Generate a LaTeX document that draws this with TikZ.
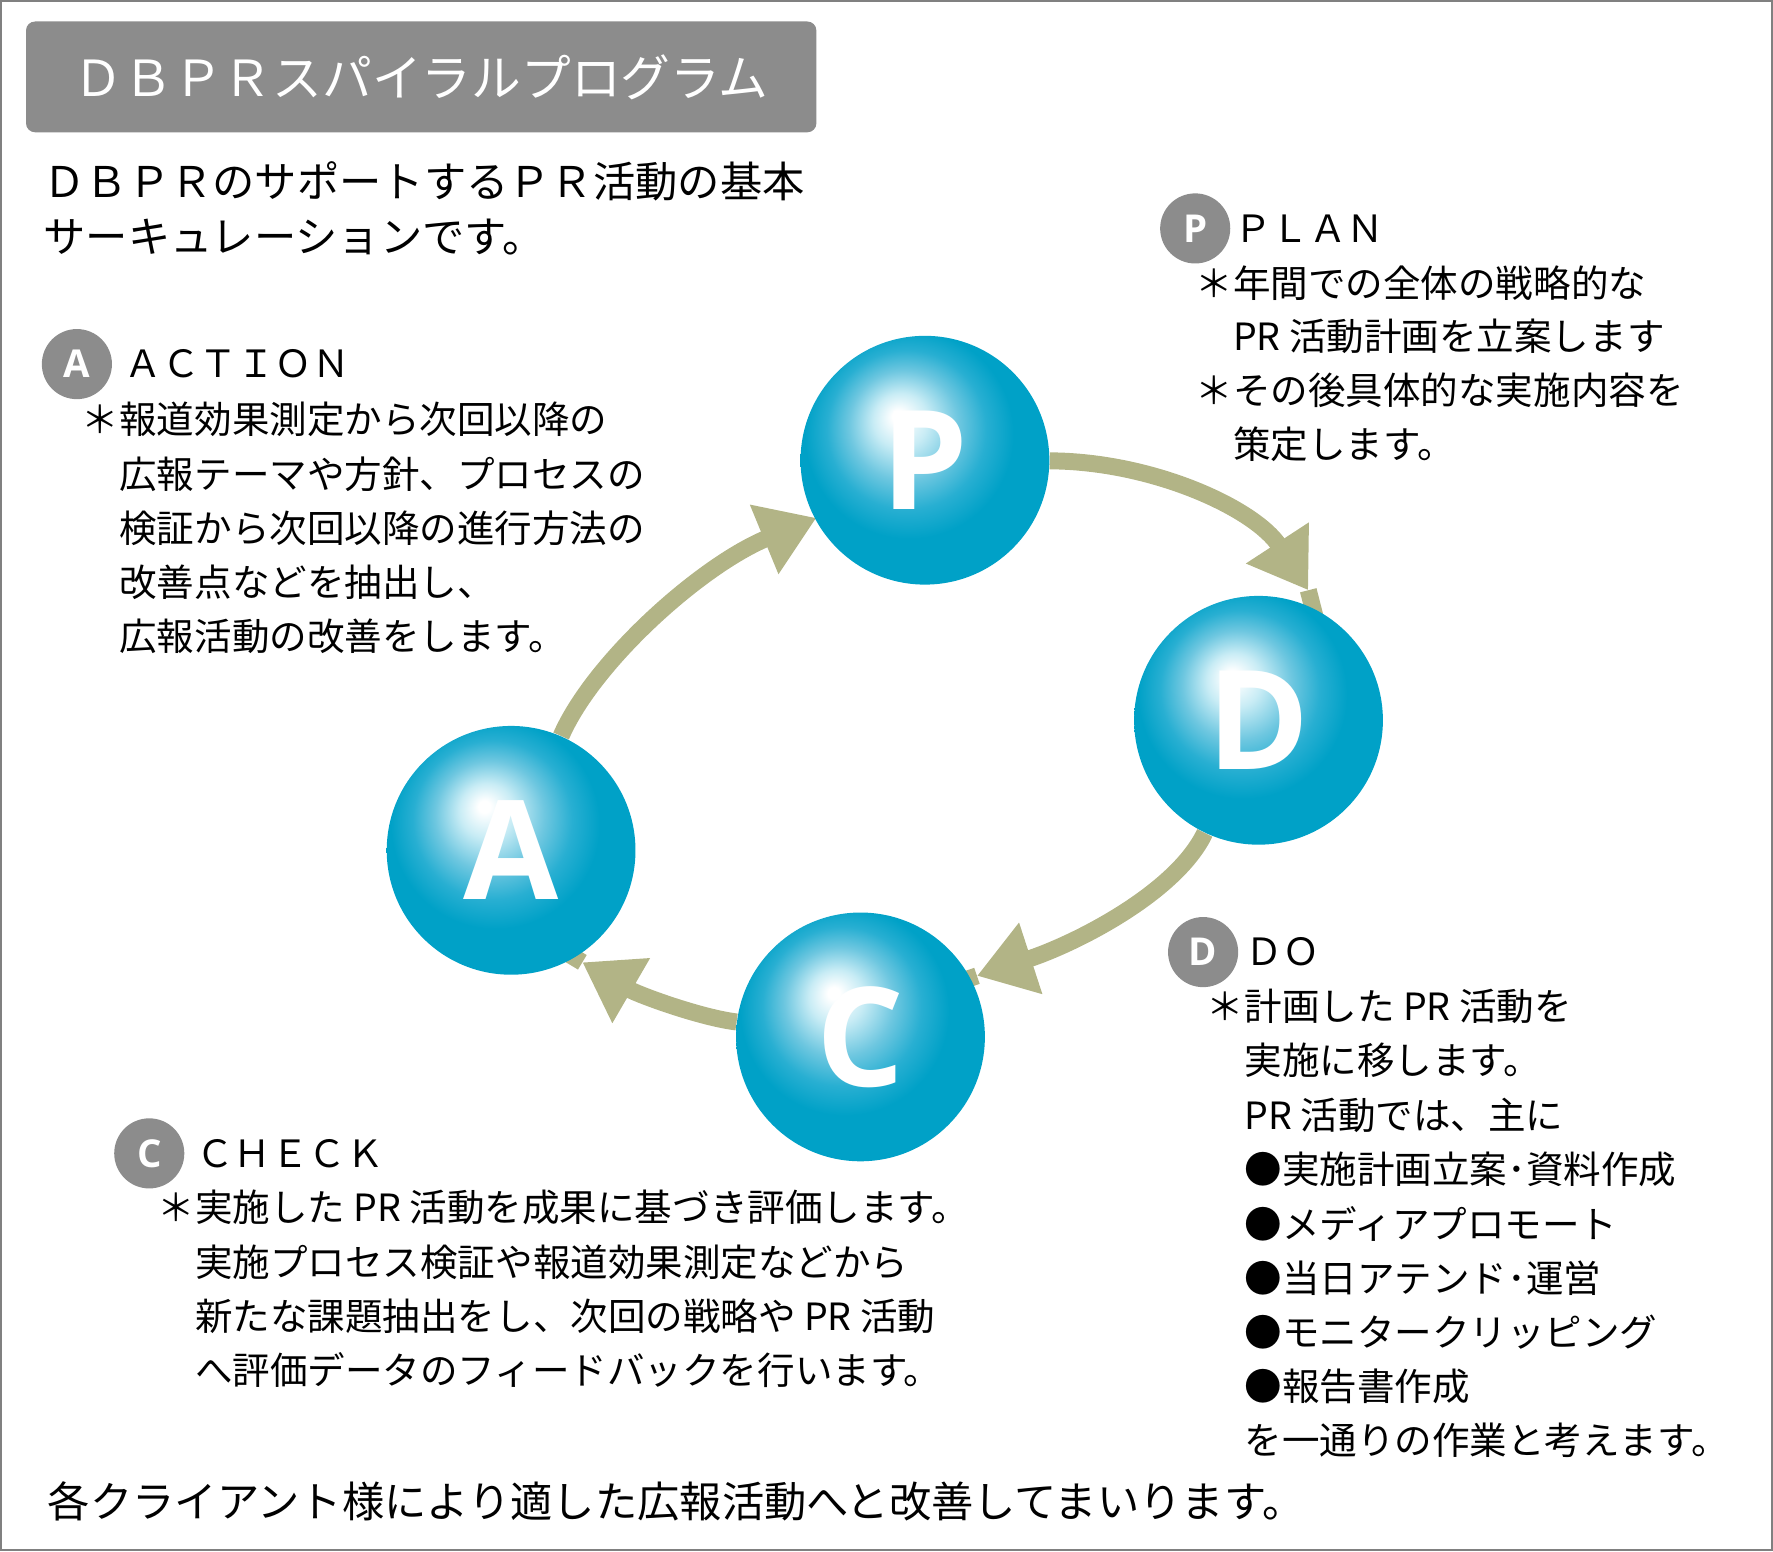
\documentclass[tikz,border=0pt]{standalone}
\usepackage{fontspec}
\setmainfont{Noto Sans CJK JP}
\newfontfamily\latf{Open Sans}
\usetikzlibrary{arrows.meta}
\pgfdeclarelayer{background}
\pgfsetlayers{background,main}
\definecolor{sphC}{RGB}{0,161,199}
\definecolor{sph1}{RGB}{200,236,245}
\definecolor{sph2}{RGB}{110,199,224}
\definecolor{sph3}{RGB}{40,175,210}
\definecolor{olive}{RGB}{178,180,134}
\definecolor{lblgray}{RGB}{140,140,140}
\definecolor{bordergray}{RGB}{128,128,128}
\pgfdeclareradialshading{sph}{\pgfpoint{-5.5bp}{9bp}}{color(0bp)=(white); color(1.2bp)=(white); color(5.5bp)=(sph1); color(11bp)=(sph2); color(16bp)=(sph3); color(21bp)=(sphC); color(50bp)=(sphC)}
\tikzset{
  sphere/.style={circle, minimum size=110pt, inner sep=0pt, shade, shading=sph, text=white,
    font=\latf\bfseries\fontsize{61}{61}\selectfont},
  lbl/.style={circle, fill=lblgray, minimum size=31pt, inner sep=0pt, text=white, font=\latf\bfseries\fontsize{17}{17}\selectfont},
  head/.style={anchor=west, inner sep=0pt, font=\fontsize{16.6}{20}\selectfont},
  body/.style={anchor=west, inner sep=0pt, font=\fontsize{16.6}{20}\selectfont},
  sub/.style={anchor=west, inner sep=0pt, font=\fontsize{18.7}{22}\selectfont},
  titlebox/.style={rounded corners=4pt, fill=lblgray, minimum width=349.5pt, minimum height=49pt, inner sep=0pt, text=white, font=\fontsize{22}{22}\selectfont},
  flow/.style={draw=olive, line width=7.5pt},
  flowtip/.style={-{Triangle[length=25pt,width=31.5pt]}}
}
\begin{document}
\begin{tikzpicture}[x=0.5pt,y=-0.5pt]
\useasboundingbox (0,0) rectangle (1568,1372);
\draw[bordergray, line width=1pt] (1,1) rectangle (1567,1371);

% title
\node[titlebox] (title) at (372.5,68) {ＤＢＰＲスパイラルプログラム};
\node[sub] (s1) at (38,160) {ＤＢＰＲのサポートするＰＲ活動の基本};
\node[sub] (s2) at (38,210) {サーキュレーションです。};
\node[sub] (b1) at (42,1328) {各クライアント様により適した広報活動へと改善してまいります。};

% spheres
\node[sphere] (P) at (818,407) {\raisebox{-3pt}{P}};
\node[sphere] (D) at (1113,637) {\raisebox{-3pt}{D}};
\node[sphere] (C) at (761,917) {\raisebox{-2pt}{C}};
\node[sphere] (A) at (452,752) {\raisebox{-4pt}{A}};

% arrows
\begin{pgfonlayer}{background}
\coordinate (tAP) at (722,458);
\coordinate (eP) at (745,447);
\coordinate (tPD) at (1157,522);
\coordinate (eD) at (1168,565);
\coordinate (tDC) at (864,863);
\coordinate (eC) at (835,873);
\coordinate (tCA) at (515,851);
\coordinate (eA) at (490,836);
\draw[flow, flowtip] (A) .. controls (525,585) and (620,500) .. (tAP);
\draw[flow] (tAP) -- (eP);
\draw[flow, flowtip] (P) .. controls (1020,408) and (1110,450) .. (tPD);
\draw[flow] (tPD) -- (eD);
\draw[flow, flowtip] (D) .. controls (1040,790) and (950,835) .. (tDC);
\draw[flow] (tDC) -- (eC);
\draw[flow, flowtip] (C) .. controls (620,900) and (565,880) .. (tCA);
\draw[flow] (tCA) -- (eA);
\end{pgfonlayer}

% PLAN
\node[lbl] (cP) at (1057,202) {P};
\node[head] (hP) at (1091,202) {ＰＬＡＮ};
\foreach \t [count=\i] in {＊年間での全体の戦略的な, 　PR 活動計画を立案します, ＊その後具体的な実施内容を, 　策定します。}
  \node[body] (plan\i) at (1057,{250+47.7*(\i-1)}) {\t};

% ACTION
\node[lbl] (cA) at (68,322) {A};
\node[head] (hA) at (110,322) {ＡＣＴＩＯＮ};
\foreach \t [count=\i] in {＊報道効果測定から次回以降の, 　広報テーマや方針、プロセスの, 　検証から次回以降の進行方法の, 　改善点などを抽出し、, 　広報活動の改善をします。}
  \node[body] (act\i) at (72,{371+48*(\i-1)}) {\t};

% CHECK
\node[lbl] (cC) at (132,1020) {C};
\node[head] (hC) at (173,1020) {ＣＨＥＣＫ};
\foreach \t [count=\i] in {＊実施した PR 活動を成果に基づき評価します。, 　実施プロセス検証や報道効果測定などから, 　新たな課題抽出をし、次回の戦略や PR 活動, 　へ評価データのフィードバックを行います。}
  \node[body] (chk\i) at (139,{1068+48*(\i-1)}) {\t};

% DO
\node[lbl] (cD) at (1064,842) {D};
\node[head] (hD) at (1101,842) {ＤＯ};
\foreach \t [count=\i] in {＊計画した PR 活動を, 　実施に移します。, 　PR 活動では、主に, 　●実施計画立案･資料作成, 　●メディアプロモート, 　●当日アテンド･運営, 　●モニタークリッピング, 　●報告書作成, 　を一通りの作業と考えます。}
  \node[body] (do\i) at (1067,{890+48*(\i-1)}) {\t};
\end{tikzpicture}
\end{document}
